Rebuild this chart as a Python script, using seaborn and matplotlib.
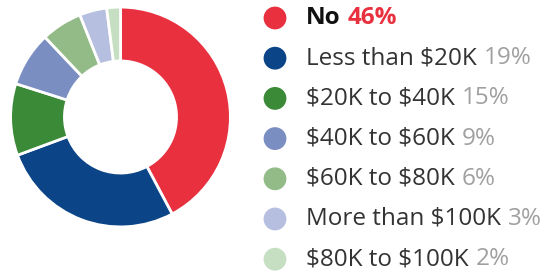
import matplotlib
matplotlib.use("Agg")
import matplotlib.pyplot as plt
import seaborn as sns

# Data
labels = ["No", "Less than $20K", "$20K to $40K", "$40K to $60K",
          "$60K to $80K", "More than $100K", "$80K to $100K"]
shares = [46, 19, 15, 9, 6, 3, 2]           # printed in the legend
wedge_shares = [42, 27, 10.5, 8, 6, 4, 2]   # as drawn in the donut
colors = ["#e8303f", "#0b4487", "#3b8a37", "#7b8ec2",
          "#93bb88", "#b6bfe0", "#c6dfc3"]

sns.set_theme(style="white")
plt.rcParams["font.family"] = ["Open Sans", "DejaVu Sans"]

fig = plt.figure(figsize=(5.51, 2.76), dpi=100)

# Donut
ax = fig.add_axes([9 / 551, 48 / 276, 223 / 551, 222 / 276])
ax.pie(wedge_shares, colors=colors, startangle=90, counterclock=False,
       wedgeprops=dict(width=0.49, edgecolor="white", linewidth=2))
ax.set_xlim(-1.01, 1.01)
ax.set_ylim(-1.01, 1.01)
ax.set_aspect("equal")
ax.axis("off")

# Legend, drawn in pixel space
lg = fig.add_axes([0, 0, 1, 1])
lg.set_xlim(0, 551)
lg.set_ylim(276, 0)
lg.axis("off")

rows = [18 + 40.2 * i for i in range(len(labels))]
sns.scatterplot(x=[275] * len(labels), y=rows, hue=labels, palette=colors,
                s=270, linewidth=0, legend=False, ax=lg)

for i, (lab, pct) in enumerate(zip(labels, shares)):
    first = i == 0
    t = lg.text(306, rows[i], lab, fontsize=17.5, va="center", ha="left",
                color="#111111" if first else "#333333",
                fontweight="bold" if first else "normal", parse_math=False)
    lg.annotate(f"{pct}%", xy=(1, 0), xycoords=t, xytext=(5, 0),
                textcoords="offset points", va="bottom", ha="left",
                fontsize=17.5,
                color="#e8303f" if first else "#a0a0a0",
                fontweight="bold" if first else "normal")

fig.savefig("out.png", dpi=100)
